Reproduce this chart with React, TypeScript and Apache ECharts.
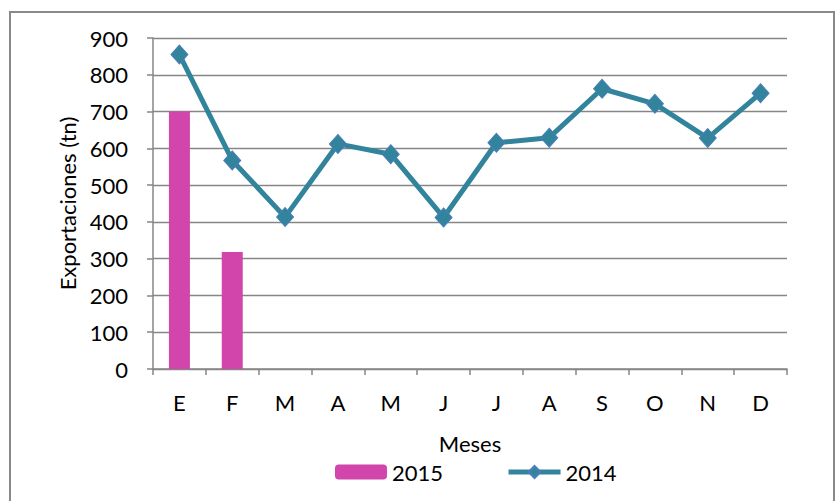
import React, { useEffect, useRef } from "react";
import * as echarts from "echarts";

const months = ["E", "F", "M", "A", "M", "J", "J", "A", "S", "O", "N", "D"];
const exports2015 = [700, 318, null, null, null, null, null, null, null, null, null, null];
const exports2014 = [855, 567, 413, 612, 584, 412, 615, 629, 762, 721, 628, 750];
const yTicks = { min: 0, max: 900, interval: 100 };

const FONT = "Lato";
const GRAY = "#868686";

export default function App() {
  const ref = useRef<HTMLDivElement>(null);
  useEffect(() => {
    const chart = echarts.init(ref.current!, null, { renderer: "svg" });
    chart.setOption({
      animation: false,
      textStyle: { fontFamily: FONT, color: "#000" },
      graphic: [
        {
          type: "rect",
          shape: { x: 10, y: 12, width: 824, height: 500 },
          style: { fill: "none", stroke: "#898989", lineWidth: 2 },
          silent: true,
        },
      ],
      grid: { left: 153, right: 49, top: 38, bottom: 132 },
      legend: {
        left: 330,
        top: 456,
        itemWidth: 52,
        itemHeight: 15,
        itemGap: 63,
        textStyle: { fontFamily: FONT, fontSize: 22, color: "#000" },
        lineStyle: { width: 5 },
        data: ["2015", "2014"],
      },
      xAxis: {
        type: "category",
        data: months,
        name: "Meses",
        nameLocation: "middle",
        nameGap: 63,
        nameTextStyle: { fontFamily: FONT, fontSize: 22, color: "#000" },
        axisLine: { lineStyle: { color: GRAY, width: 1.5 } },
        axisTick: { show: true, length: 6, lineStyle: { color: GRAY, width: 1.5 } },
        axisLabel: { fontFamily: FONT, fontSize: 22, color: "#000", margin: 22 },
      },
      yAxis: {
        type: "value",
        min: yTicks.min,
        max: yTicks.max,
        interval: yTicks.interval,
        name: "Exportaciones (tn)",
        nameLocation: "middle",
        nameGap: 72,
        nameTextStyle: { fontFamily: FONT, fontSize: 22, color: "#000" },
        axisLine: { show: true, lineStyle: { color: GRAY, width: 1.5 } },
        axisTick: { show: true, length: 6, lineStyle: { color: GRAY, width: 1.5 } },
        axisLabel: { fontFamily: FONT, fontSize: 22, color: "#000", margin: 25 },
        splitLine: { lineStyle: { color: GRAY, width: 1.3 } },
      },
      series: [
        {
          name: "2015",
          type: "bar",
          data: exports2015,
          barWidth: 21,
          itemStyle: { color: "#D246AB" },
        },
        {
          name: "2014",
          type: "line",
          data: exports2014,
          symbol: "diamond",
          symbolSize: [17, 19],
          lineStyle: { color: "#31849B", width: 5 },
          itemStyle: { color: "#31849B", borderColor: "#4A7EBB", borderWidth: 1 },
        },
      ],
    });
    return () => chart.dispose();
  }, []);
  return (
    <div
      ref={ref}
      style={{ position: "fixed", left: 0, top: 0, width: 836, height: 501, background: "#fff" }}
    />
  );
}
